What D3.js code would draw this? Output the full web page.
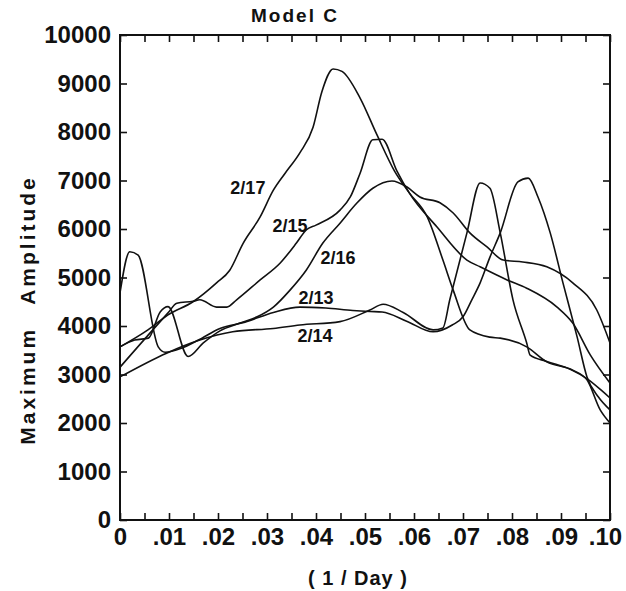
<!DOCTYPE html>
<html>
<head>
<meta charset="utf-8">
<script src="https://cdn.jsdelivr.net/npm/d3@7"></script>
<style>
  body { margin: 0; background: #fff; }
  text { font-family: "Liberation Sans", Arial, sans-serif; fill: #111; }
</style>
</head>
<body>
<svg id="chart"></svg>
<script>
// data: [frequency (1/day), maximum amplitude]
const s213 = [[0,4680],[0.002,5530],[0.0037,5460],[0.0078,3570],[0.0092,3460],[0.0127,3550],[0.016,3710],
  [0.0204,3950],[0.0255,4080],[0.0313,4280],[0.0367,4390],[0.042,4370],[0.0475,4320],[0.051,4300],[0.0535,4290],
  [0.0585,4100],[0.0639,3880],[0.0678,4020],[0.07,4190],[0.0718,4540],[0.0735,4890],[0.0755,5420],[0.0776,5920],
  [0.0812,6970],[0.0833,7050],[0.0853,6660],[0.0878,5920],[0.0904,4890],[0.0933,3770],[0.0953,2950],[0.0976,2540],[0.1,2270]];
const s214 = [[0,2950],[0.0095,3440],[0.0163,3710],[0.023,3880],[0.0313,3950],[0.0367,4020],[0.0449,4090],
  [0.051,4330],[0.0537,4450],[0.0578,4280],[0.0639,3920],[0.0659,3960],[0.0673,4540],[0.0708,5920],[0.0735,6950],
  [0.0755,6840],[0.0776,5920],[0.0802,4540],[0.083,3650],[0.0837,3400],[0.0871,3270],[0.092,3100],[0.0955,2900],
  [0.0985,2650],[0.1,2515]];
const s215 = [[0,3150],[0.0098,4270],[0.0116,4470],[0.0149,4510],[0.0163,4540],[0.0197,4390],[0.0218,4390],
  [0.0238,4540],[0.0286,4950],[0.0327,5300],[0.036,5710],[0.038,5980],[0.040,6080],[0.0449,6390],[0.047,6660],
  [0.049,7150],[0.0516,7840],[0.0535,7850],[0.0565,7200],[0.059,6750],[0.0647,6040],[0.0708,5360],[0.0735,5220],
  [0.079,4950],[0.083,4780],[0.0892,4390],[0.0924,4060],[0.096,3400],[0.1,2825]];
const s216 = [[0,3570],[0.003,3710],[0.0058,3750],[0.0082,4290],[0.0098,4400],[0.0139,3370],[0.017,3650],
  [0.0204,3900],[0.0245,4060],[0.028,4190],[0.0313,4390],[0.0347,4740],[0.038,5150],[0.0414,5710],[0.0449,6120],
  [0.0483,6530],[0.0516,6840],[0.0555,6990],[0.0585,6870],[0.0612,6660],[0.0653,6540],[0.068,6330],[0.0714,5920],
  [0.0749,5630],[0.0782,5360],[0.0822,5320],[0.0871,5220],[0.0924,4890],[0.0973,4330],[0.1,3650]];
const s217 = [[0,3570],[0.0057,3920],[0.0098,4230],[0.0149,4500],[0.0197,4890],[0.0224,5150],[0.0251,5700],
  [0.0286,6250],[0.0313,6800],[0.0337,7150],[0.0367,7570],[0.0394,8100],[0.0412,8830],[0.0435,9300],[0.0453,9250],
  [0.049,8700],[0.0524,7950],[0.056,7200],[0.059,6750],[0.0627,6250],[0.0659,5360],[0.068,4740],[0.0714,3920],
  [0.0755,3770],[0.0776,3750],[0.083,3570],[0.0871,3260],[0.0924,3090],[0.0953,2890],[0.098,2270],[0.1,2000]];

const seriesNames = ["2/13", "2/14", "2/15", "2/16", "2/17"];
const seriesData = [s213, s214, s215, s216, s217];
// label anchor points, in data units
const labelPos = [[0.0400,4580],[0.0398,3790],[0.0347,6060],[0.0445,5400],[0.0261,6845]];

const xTicks = [0,0.01,0.02,0.03,0.04,0.05,0.06,0.07,0.08,0.09,0.10];
const xTickLabels = ["0",".01",".02",".03",".04",".05",".06",".07",".08",".09",".10"];
const yTicks = [0,1000,2000,3000,4000,5000,6000,7000,8000,9000,10000];

const W = 626, H = 591;
const margin = {top: 35, right: 16, bottom: 71, left: 120};
const width = W - margin.left - margin.right,
      height = H - margin.top - margin.bottom;

const svg = d3.select("#chart").attr("width", W).attr("height", H);
const g = svg.append("g").attr("transform", `translate(${margin.left},${margin.top})`);

const x = d3.scaleLinear().domain([0, 0.1]).range([0, width]);
const y = d3.scaleLinear().domain([0, 10000]).range([height, 0]);

const minorX = d3.range(0, 0.1001, 0.005);

// bottom axis, ticks pointing inward
g.append("g")
  .attr("transform", `translate(0,${height})`)
  .call(d3.axisBottom(x).tickValues(minorX).tickSize(-7).tickFormat(""))
  .call(a => a.select(".domain").remove());
const xLab = g.append("g")
  .attr("transform", `translate(0,${height})`)
  .call(d3.axisBottom(x).tickValues(xTicks).tickSize(0).tickPadding(8)
    .tickFormat((d, i) => xTickLabels[i]))
  .call(a => a.select(".domain").remove());
xLab.selectAll("text").style("font-size", "24px").style("font-weight", "bold");
// keep ".10" inside the window
xLab.selectAll("text").filter(d => d === 0.10).attr("dx", -5);

// top axis
g.append("g")
  .call(d3.axisTop(x).tickValues(minorX).tickSize(-7).tickFormat(""))
  .call(a => a.select(".domain").remove());

// left axis
g.append("g")
  .call(d3.axisLeft(y).tickValues(yTicks).tickSize(-7).tickPadding(9).tickFormat(d3.format("d")))
  .call(a => a.select(".domain").remove())
  .selectAll("text").style("font-size", "24px").style("font-weight", "bold");

// right axis
g.append("g")
  .attr("transform", `translate(${width},0)`)
  .call(d3.axisRight(y).tickValues(yTicks).tickSize(-7).tickFormat(""))
  .call(a => a.select(".domain").remove());

g.selectAll(".tick line").attr("stroke", "#111").attr("stroke-width", 1.6);

// frame
g.append("rect")
  .attr("width", width).attr("height", height)
  .attr("fill", "none").attr("stroke", "#111").attr("stroke-width", 2);

const line = d3.line()
  .curve(d3.curveMonotoneX)
  .x(d => x(d[0]))
  .y(d => y(d[1]));

g.selectAll(".series")
  .data(seriesData)
  .enter().append("path")
  .attr("class", "series")
  .attr("d", line)
  .attr("fill", "none")
  .attr("stroke", "#111")
  .attr("stroke-width", 1.6)
  .attr("stroke-linejoin", "round");

g.selectAll(".series-label")
  .data(seriesNames)
  .enter().append("text")
  .attr("class", "series-label")
  .attr("x", (d, i) => x(labelPos[i][0]))
  .attr("y", (d, i) => y(labelPos[i][1]))
  .attr("text-anchor", "middle")
  .attr("dominant-baseline", "central")
  .style("font-size", "18px")
  .style("font-weight", "bold")
  .text(d => d);

// titles
svg.append("text")
  .attr("x", 295)
  .attr("y", 15)
  .attr("text-anchor", "middle")
  .attr("dominant-baseline", "central")
  .style("font-size", "19px")
  .style("font-weight", "bold")
  .style("letter-spacing", "2px")
  .text("Model C");

svg.append("text")
  .attr("x", 358)
  .attr("y", 578)
  .attr("text-anchor", "middle")
  .attr("dominant-baseline", "central")
  .style("font-size", "20px")
  .style("font-weight", "bold")
  .style("letter-spacing", "1px")
  .text("( 1 / Day )");

svg.append("text")
  .attr("transform", "translate(27,310) rotate(-90)")
  .attr("text-anchor", "middle")
  .attr("dominant-baseline", "central")
  .style("font-size", "21px")
  .style("font-weight", "bold")
  .style("letter-spacing", "3px")
  .style("word-spacing", "14px")
  .text("Maximum Amplitude");
</script>
</body>
</html>
